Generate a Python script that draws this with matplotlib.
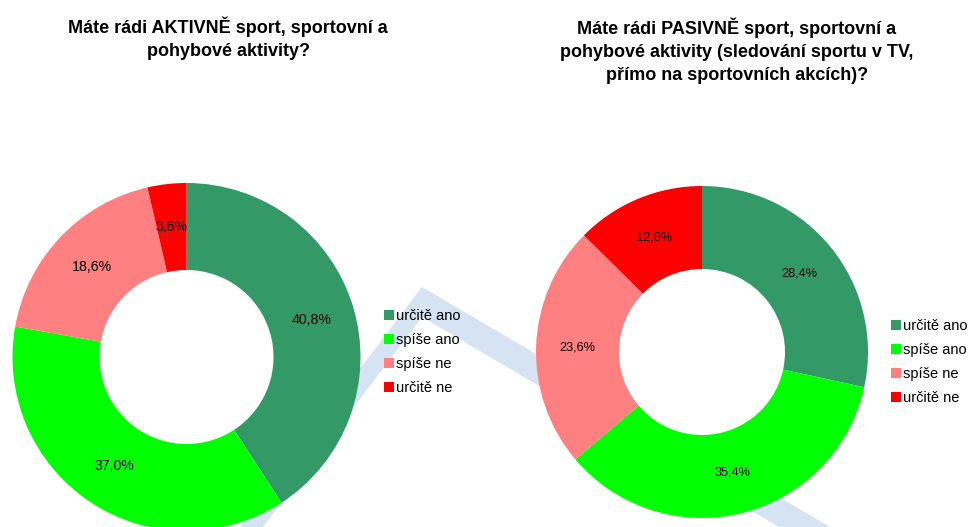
import matplotlib
matplotlib.use("Agg")
import matplotlib.pyplot as plt
from matplotlib.patches import Polygon
import numpy as np

plt.rcParams['font.family'] = ['Liberation Sans', 'DejaVu Sans']

categories = ["určitě ano", "spíše ano", "spíše ne", "určitě ne"]
colors = ["#339966", "#00ff00", "#ff8080", "#ff0000"]
active_values = [40.8, 37.0, 18.6, 3.6]
passive_values = [28.4, 35.4, 23.6, 12.6]
title_active = "Máte rádi AKTIVNĚ sport, sportovní a\npohybové aktivity?"
title_passive = ("Máte rádi PASIVNĚ sport, sportovní a\n"
                 "pohybové aktivity (sledování sportu v TV,\n"
                 "přímo na sportovních akcích)?")

W, H = 971, 527
fig = plt.figure(figsize=(W / 100, H / 100), dpi=100)
ax = fig.add_axes([0, 0, 1, 1])

def py(y):
    return H - y

# decorative background chevron
band = Polygon([(240, py(527)), (422, py(287)), (830, py(527)),
                (779, py(527)), (422, py(317)), (263, py(527))],
               closed=True, facecolor="#d6e3f3", edgecolor="none", zorder=0)
ax.add_patch(band)

def donut(values, cx, cy, r, fs, legend_xy):
    wedges, _ = ax.pie(values, colors=colors, startangle=90, counterclock=False,
                       radius=r, center=(cx, py(cy)),
                       wedgeprops=dict(width=r * 0.5, edgecolor="none"),
                       frame=True)
    for w, v in zip(wedges, values):
        ang = np.deg2rad((w.theta1 + w.theta2) / 2)
        rr = r * 0.75
        ax.text(cx + rr * np.cos(ang), py(cy) + rr * np.sin(ang),
                f"{v:.1f}%".replace(".", ","), ha="center", va="center",
                fontsize=fs, color="black", zorder=5)
    leg = ax.legend(wedges, categories, loc="upper left",
                    bbox_to_anchor=(legend_xy[0], py(legend_xy[1])),
                    bbox_transform=ax.transData, frameon=False,
                    fontsize=10.5, handlelength=0.7, handleheight=0.7,
                    handletextpad=0.15, labelspacing=0.68, borderpad=0,
                    borderaxespad=0)
    return leg

leg1 = donut(active_values, 186.5, 357, 174, 10.2, (384, 309))
ax.add_artist(leg1)
leg2 = donut(passive_values, 702, 352, 166, 9.2, (891, 319))

ax.set_xlim(0, W)
ax.set_ylim(0, H)
ax.set_aspect("auto")
ax.axis("off")

fig.text(228 / W, 1 - 38.5 / H, title_active, ha="center", va="center",
         fontsize=13, fontweight="bold", linespacing=1.45)
fig.text(737 / W, 1 - 51 / H, title_passive, ha="center", va="center",
         fontsize=13, fontweight="bold", linespacing=1.45)

fig.savefig("out.png", dpi=100)
